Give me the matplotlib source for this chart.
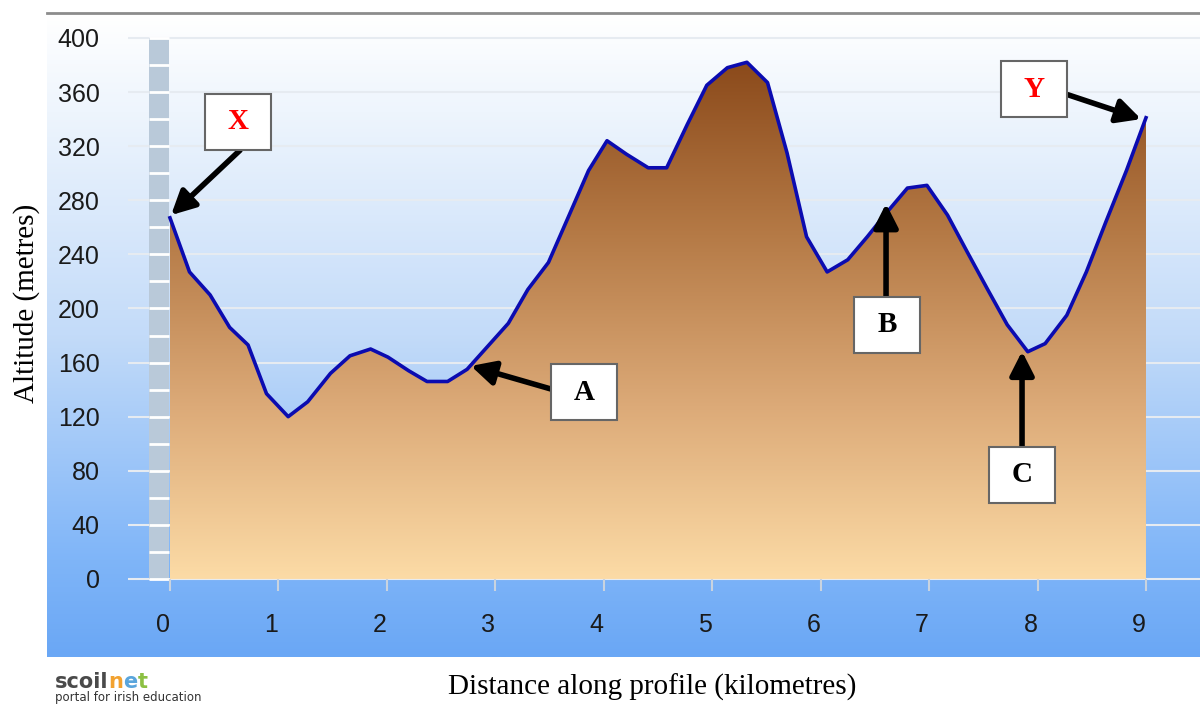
import numpy as np
import matplotlib
matplotlib.use("Agg")
import matplotlib.pyplot as plt
from matplotlib.colors import LinearSegmentedColormap
from matplotlib.patches import Polygon, Rectangle
from matplotlib.text import Annotation
from matplotlib.transforms import ScaledTranslation

# profile (km, m)
distance = [0, 0.18, 0.37, 0.55, 0.72, 0.89, 1.09, 1.27, 1.48, 1.66, 1.85,
            2.01, 2.20, 2.37, 2.56, 2.74, 2.93, 3.12, 3.30, 3.49, 3.67, 3.86,
            4.03, 4.21, 4.41, 4.58, 4.77, 4.95, 5.14, 5.32, 5.51, 5.69, 5.87,
            6.06, 6.25, 6.43, 6.61, 6.80, 6.98, 7.17, 7.35, 7.54, 7.72, 7.91,
            8.07, 8.27, 8.45, 8.63, 8.82, 9.0]
altitude = [267, 227, 210, 186, 173, 137, 120, 131, 152, 165, 170,
            164, 154, 146, 146, 155, 172, 189, 214, 234, 267, 302,
            324, 314, 304, 304, 336, 365, 378, 382, 367, 315, 253,
            227, 236, 253, 271, 289, 291, 269, 242, 214, 188, 168,
            174, 195, 227, 264, 302, 341]
x_ticks = list(range(0, 10))
y_ticks = list(range(0, 401, 40))

# labelled points: letter, box centre, arrow start, arrow tip
labels = ["X", "Y", "A", "B", "C"]
label_colors = ["red", "red", "black", "black", "black"]
box_centres = [(0.63, 338), (7.97, 362), (3.82, 138), (6.61, 188), (7.86, 77)]
arrow_starts = [(0.646, 317), (8.28, 358), (3.51, 140.5), (6.603, 208.5), (7.857, 97.6)]
arrow_tips = [(0.01, 269), (8.955, 340), (2.775, 157.5), (6.603, 277.5), (7.857, 168.3)]

fig = plt.figure(figsize=(12, 7.04), dpi=100)
ax = fig.add_axes([47 / 1200, 47 / 704, 1153 / 1200, 643 / 704])
xlim = (-1.134, 9.498)
ylim = (-57.7, 417.7)

# blue panel gradient
bg = LinearSegmentedColormap.from_list(
    "bg", [(0, "#6aa7f5"), (0.15, "#7fb5f8"), (0.5, "#c3dbf9"),
           (0.85, "#eef5fd"), (1, "#ffffff")])
grad = np.linspace(0, 1, 256).reshape(-1, 1)
ax.imshow(grad, cmap=bg, origin="lower", aspect="auto",
          extent=[xlim[0], xlim[1], ylim[0], ylim[1]], zorder=0)

# gridlines
ax.hlines(y_ticks, -0.387, xlim[1], color="#e6ebf1", lw=1.5, zorder=1)

# side stripe with white marks
ax.add_patch(Rectangle((-0.194, 0), 0.185, 400, facecolor="#b9c9d9",
                       edgecolor="none", zorder=2))
ax.hlines(range(0, 401, 20), -0.194, -0.009, color="white", lw=2, zorder=2)
ax.vlines(x_ticks, -9, 0, color="#c9d3df", lw=1.5, zorder=2)

# brown gradient fill under the profile
fill_poly = Polygon(np.column_stack([[distance[0]] + distance + [distance[-1]],
                                     [0] + altitude + [0]]),
                    closed=True, facecolor="none", edgecolor="none")
ax.add_patch(fill_poly)
brown = LinearSegmentedColormap.from_list(
    "brown", ["#fcdba6", "#dcaa78", "#b57a46", "#8b4a1b"])
img = ax.imshow(grad, cmap=brown, origin="lower", aspect="auto",
                extent=[0, 9, 0, max(altitude)], zorder=3)
img.set_clip_path(fill_poly)

ax.plot(distance, altitude, color="#0b0bb0", lw=2.6, zorder=4,
        solid_joinstyle="round")

# labelled boxes and arrows
bw, bh = 0.61, 41.5
for lab, col, c, s, t in zip(labels, label_colors, box_centres, arrow_starts, arrow_tips):
    ax.add_patch(Rectangle((c[0] - bw / 2, c[1] - bh / 2), bw, bh,
                           facecolor="white", edgecolor="#666666", lw=1.5, zorder=6))
    ax.text(c[0], c[1], lab, color=col, fontsize=21, fontweight="bold",
            family="Liberation Serif", ha="center", va="center", zorder=7)
    ax.annotate("", xy=t, xytext=s, zorder=5,
                arrowprops=dict(arrowstyle="-|>,head_length=0.65,head_width=0.33",
                                lw=4, color="black", mutation_scale=22,
                                shrinkA=0, shrinkB=0))

ax.set_xlim(*xlim)
ax.set_ylim(*ylim)
ax.set_xticks(x_ticks)
ax.set_yticks(y_ticks)
ax.tick_params(axis="y", length=0, pad=-38, labelsize=18, labelcolor="#1a1a1a")
ax.tick_params(axis="x", length=0, pad=-31.5, labelsize=18, labelcolor="#1a1a1a")
shift = ScaledTranslation(-7 / 100, 0, fig.dpi_scale_trans)
for lbl in ax.get_xticklabels():
    lbl.set_family("Liberation Sans")
    lbl.set_transform(lbl.get_transform() + shift)
for lbl in ax.get_yticklabels():
    lbl.set_family("Liberation Sans")
for sp in ax.spines.values():
    sp.set_visible(False)

# top rule
fig.add_artist(plt.Line2D([47 / 1200, 1], [1 - 13 / 704] * 2, color="#8c8c8c", lw=2))

fig.text(27 / 1200, 1 - 303 / 704, "Altitude (metres)", rotation=90,
         family="Liberation Serif", fontsize=21, ha="center", va="center")
fig.text(652 / 1200, 1 - 687 / 704, "Distance along profile (kilometres)",
         family="Liberation Serif", fontsize=21, ha="center", va="center")

# logo: each coloured letter chained to the previous one
prev = fig.text(55 / 1200, 1 - 692 / 704, "scoil", family="DejaVu Sans",
                fontweight="bold", fontsize=15, color="#4a4a4a", va="bottom")
for ch, col in zip("net", ["#f2a230", "#5aa5dc", "#8cc043"]):
    prev = fig.add_artist(Annotation(ch, xy=(1, 0), xycoords=prev, ha="left",
                                     va="bottom", family="DejaVu Sans",
                                     fontweight="bold", fontsize=15, color=col))
fig.text(55 / 1200, 1 - 697 / 704, "portal for irish education",
         family="DejaVu Sans", fontsize=8.5, color="#333333", va="center")

fig.savefig("out.png", dpi=100)
